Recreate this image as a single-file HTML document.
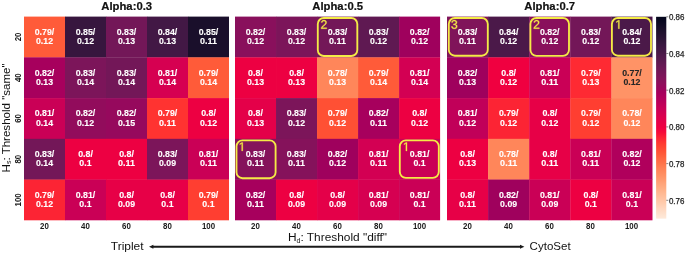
<!DOCTYPE html><html><head><meta charset="utf-8"><style>html,body{margin:0;padding:0;background:#fff;}svg{display:block;filter:blur(0.3px);}text{font-family:"Liberation Sans",sans-serif;}</style></head><body>
<svg width="685" height="254" viewBox="0 0 685 254">
<defs><linearGradient id="cb" x1="0" y1="1" x2="0" y2="0">
<stop offset="0.0000" stop-color="#feeadb"/>
<stop offset="0.0250" stop-color="#fee1cd"/>
<stop offset="0.0500" stop-color="#ffd7bf"/>
<stop offset="0.0750" stop-color="#ffcdaf"/>
<stop offset="0.1000" stop-color="#ffc3a1"/>
<stop offset="0.1250" stop-color="#ffb993"/>
<stop offset="0.1500" stop-color="#ffae84"/>
<stop offset="0.1750" stop-color="#ffa378"/>
<stop offset="0.2000" stop-color="#ff976a"/>
<stop offset="0.2250" stop-color="#ff8c5f"/>
<stop offset="0.2500" stop-color="#ff8155"/>
<stop offset="0.2750" stop-color="#ff7349"/>
<stop offset="0.3000" stop-color="#ff6640"/>
<stop offset="0.3250" stop-color="#ff5737"/>
<stop offset="0.3500" stop-color="#ff4832"/>
<stop offset="0.3750" stop-color="#ff3831"/>
<stop offset="0.4000" stop-color="#fc2434"/>
<stop offset="0.4250" stop-color="#f70d39"/>
<stop offset="0.4500" stop-color="#ef0041"/>
<stop offset="0.4750" stop-color="#e70047"/>
<stop offset="0.5000" stop-color="#de004d"/>
<stop offset="0.5250" stop-color="#d30053"/>
<stop offset="0.5500" stop-color="#c80057"/>
<stop offset="0.5750" stop-color="#bb005a"/>
<stop offset="0.6000" stop-color="#b0005c"/>
<stop offset="0.6250" stop-color="#a5005d"/>
<stop offset="0.6500" stop-color="#98075d"/>
<stop offset="0.6750" stop-color="#8c0f5c"/>
<stop offset="0.7000" stop-color="#80145a"/>
<stop offset="0.7250" stop-color="#751658"/>
<stop offset="0.7500" stop-color="#6a1855"/>
<stop offset="0.7750" stop-color="#5e1951"/>
<stop offset="0.8000" stop-color="#53194d"/>
<stop offset="0.8250" stop-color="#471847"/>
<stop offset="0.8500" stop-color="#3d1742"/>
<stop offset="0.8750" stop-color="#33163c"/>
<stop offset="0.9000" stop-color="#281334"/>
<stop offset="0.9250" stop-color="#1f112e"/>
<stop offset="0.9500" stop-color="#140d27"/>
<stop offset="0.9750" stop-color="#0a0921"/>
<stop offset="1.0000" stop-color="#02051b"/>
</linearGradient></defs>
<rect width="685" height="254" fill="#fff"/>
<rect x="24.00" y="16.60" width="41.30" height="41.04" fill="#ff5b39"/>
<rect x="65.00" y="16.60" width="41.30" height="41.04" fill="#37163e"/>
<rect x="106.00" y="16.60" width="41.30" height="41.04" fill="#731758"/>
<rect x="147.00" y="16.60" width="41.30" height="41.04" fill="#421845"/>
<rect x="188.00" y="16.60" width="41.00" height="41.04" fill="#1a0f2b"/>
<rect x="24.00" y="57.34" width="41.30" height="41.04" fill="#a7005d"/>
<rect x="65.00" y="57.34" width="41.30" height="41.04" fill="#7c155a"/>
<rect x="106.00" y="57.34" width="41.30" height="41.04" fill="#731758"/>
<rect x="147.00" y="57.34" width="41.30" height="41.04" fill="#d60051"/>
<rect x="188.00" y="57.34" width="41.00" height="41.04" fill="#ff5b39"/>
<rect x="24.00" y="98.08" width="41.30" height="41.04" fill="#ca0056"/>
<rect x="65.00" y="98.08" width="41.30" height="41.04" fill="#920c5c"/>
<rect x="106.00" y="98.08" width="41.30" height="41.04" fill="#96095d"/>
<rect x="147.00" y="98.08" width="41.30" height="41.04" fill="#ff3331"/>
<rect x="188.00" y="98.08" width="41.00" height="41.04" fill="#ed0042"/>
<rect x="24.00" y="138.82" width="41.30" height="41.04" fill="#731758"/>
<rect x="65.00" y="138.82" width="41.30" height="41.04" fill="#ed0042"/>
<rect x="106.00" y="138.82" width="41.30" height="41.04" fill="#ed0042"/>
<rect x="147.00" y="138.82" width="41.30" height="41.04" fill="#7c155a"/>
<rect x="188.00" y="138.82" width="41.00" height="41.04" fill="#ca0056"/>
<rect x="24.00" y="179.56" width="41.30" height="40.74" fill="#fc2434"/>
<rect x="65.00" y="179.56" width="41.30" height="40.74" fill="#ca0056"/>
<rect x="106.00" y="179.56" width="41.30" height="40.74" fill="#e70047"/>
<rect x="147.00" y="179.56" width="41.30" height="40.74" fill="#e70047"/>
<rect x="188.00" y="179.56" width="41.00" height="40.74" fill="#ff3e31"/>
<text x="44.50" y="34.87" font-size="8.60" font-weight="bold" fill="#ffffff" stroke="#ffffff" stroke-width="0.12" text-anchor="middle" textLength="19.55" lengthAdjust="spacingAndGlyphs">0.79/</text>
<text x="44.50" y="44.27" font-size="8.60" font-weight="bold" fill="#ffffff" stroke="#ffffff" stroke-width="0.12" text-anchor="middle" textLength="17.03" lengthAdjust="spacingAndGlyphs">0.12</text>
<text x="85.50" y="34.87" font-size="8.60" font-weight="bold" fill="#ffffff" stroke="#ffffff" stroke-width="0.12" text-anchor="middle" textLength="19.55" lengthAdjust="spacingAndGlyphs">0.85/</text>
<text x="85.50" y="44.27" font-size="8.60" font-weight="bold" fill="#ffffff" stroke="#ffffff" stroke-width="0.12" text-anchor="middle" textLength="17.03" lengthAdjust="spacingAndGlyphs">0.12</text>
<text x="126.50" y="34.87" font-size="8.60" font-weight="bold" fill="#ffffff" stroke="#ffffff" stroke-width="0.12" text-anchor="middle" textLength="19.55" lengthAdjust="spacingAndGlyphs">0.83/</text>
<text x="126.50" y="44.27" font-size="8.60" font-weight="bold" fill="#ffffff" stroke="#ffffff" stroke-width="0.12" text-anchor="middle" textLength="17.03" lengthAdjust="spacingAndGlyphs">0.13</text>
<text x="167.50" y="34.87" font-size="8.60" font-weight="bold" fill="#ffffff" stroke="#ffffff" stroke-width="0.12" text-anchor="middle" textLength="19.55" lengthAdjust="spacingAndGlyphs">0.84/</text>
<text x="167.50" y="44.27" font-size="8.60" font-weight="bold" fill="#ffffff" stroke="#ffffff" stroke-width="0.12" text-anchor="middle" textLength="17.03" lengthAdjust="spacingAndGlyphs">0.13</text>
<text x="208.50" y="34.87" font-size="8.60" font-weight="bold" fill="#ffffff" stroke="#ffffff" stroke-width="0.12" text-anchor="middle" textLength="19.55" lengthAdjust="spacingAndGlyphs">0.85/</text>
<text x="208.50" y="44.27" font-size="8.60" font-weight="bold" fill="#ffffff" stroke="#ffffff" stroke-width="0.12" text-anchor="middle" textLength="17.03" lengthAdjust="spacingAndGlyphs">0.11</text>
<text x="44.50" y="75.61" font-size="8.60" font-weight="bold" fill="#ffffff" stroke="#ffffff" stroke-width="0.12" text-anchor="middle" textLength="19.55" lengthAdjust="spacingAndGlyphs">0.82/</text>
<text x="44.50" y="85.01" font-size="8.60" font-weight="bold" fill="#ffffff" stroke="#ffffff" stroke-width="0.12" text-anchor="middle" textLength="17.03" lengthAdjust="spacingAndGlyphs">0.13</text>
<text x="85.50" y="75.61" font-size="8.60" font-weight="bold" fill="#ffffff" stroke="#ffffff" stroke-width="0.12" text-anchor="middle" textLength="19.55" lengthAdjust="spacingAndGlyphs">0.83/</text>
<text x="85.50" y="85.01" font-size="8.60" font-weight="bold" fill="#ffffff" stroke="#ffffff" stroke-width="0.12" text-anchor="middle" textLength="17.03" lengthAdjust="spacingAndGlyphs">0.14</text>
<text x="126.50" y="75.61" font-size="8.60" font-weight="bold" fill="#ffffff" stroke="#ffffff" stroke-width="0.12" text-anchor="middle" textLength="19.55" lengthAdjust="spacingAndGlyphs">0.83/</text>
<text x="126.50" y="85.01" font-size="8.60" font-weight="bold" fill="#ffffff" stroke="#ffffff" stroke-width="0.12" text-anchor="middle" textLength="17.03" lengthAdjust="spacingAndGlyphs">0.14</text>
<text x="167.50" y="75.61" font-size="8.60" font-weight="bold" fill="#ffffff" stroke="#ffffff" stroke-width="0.12" text-anchor="middle" textLength="19.55" lengthAdjust="spacingAndGlyphs">0.81/</text>
<text x="167.50" y="85.01" font-size="8.60" font-weight="bold" fill="#ffffff" stroke="#ffffff" stroke-width="0.12" text-anchor="middle" textLength="17.03" lengthAdjust="spacingAndGlyphs">0.14</text>
<text x="208.50" y="75.61" font-size="8.60" font-weight="bold" fill="#ffffff" stroke="#ffffff" stroke-width="0.12" text-anchor="middle" textLength="19.55" lengthAdjust="spacingAndGlyphs">0.79/</text>
<text x="208.50" y="85.01" font-size="8.60" font-weight="bold" fill="#ffffff" stroke="#ffffff" stroke-width="0.12" text-anchor="middle" textLength="17.03" lengthAdjust="spacingAndGlyphs">0.14</text>
<text x="44.50" y="116.35" font-size="8.60" font-weight="bold" fill="#ffffff" stroke="#ffffff" stroke-width="0.12" text-anchor="middle" textLength="19.55" lengthAdjust="spacingAndGlyphs">0.81/</text>
<text x="44.50" y="125.75" font-size="8.60" font-weight="bold" fill="#ffffff" stroke="#ffffff" stroke-width="0.12" text-anchor="middle" textLength="17.03" lengthAdjust="spacingAndGlyphs">0.14</text>
<text x="85.50" y="116.35" font-size="8.60" font-weight="bold" fill="#ffffff" stroke="#ffffff" stroke-width="0.12" text-anchor="middle" textLength="19.55" lengthAdjust="spacingAndGlyphs">0.82/</text>
<text x="85.50" y="125.75" font-size="8.60" font-weight="bold" fill="#ffffff" stroke="#ffffff" stroke-width="0.12" text-anchor="middle" textLength="17.03" lengthAdjust="spacingAndGlyphs">0.12</text>
<text x="126.50" y="116.35" font-size="8.60" font-weight="bold" fill="#ffffff" stroke="#ffffff" stroke-width="0.12" text-anchor="middle" textLength="19.55" lengthAdjust="spacingAndGlyphs">0.82/</text>
<text x="126.50" y="125.75" font-size="8.60" font-weight="bold" fill="#ffffff" stroke="#ffffff" stroke-width="0.12" text-anchor="middle" textLength="17.03" lengthAdjust="spacingAndGlyphs">0.15</text>
<text x="167.50" y="116.35" font-size="8.60" font-weight="bold" fill="#ffffff" stroke="#ffffff" stroke-width="0.12" text-anchor="middle" textLength="19.55" lengthAdjust="spacingAndGlyphs">0.79/</text>
<text x="167.50" y="125.75" font-size="8.60" font-weight="bold" fill="#ffffff" stroke="#ffffff" stroke-width="0.12" text-anchor="middle" textLength="17.03" lengthAdjust="spacingAndGlyphs">0.11</text>
<text x="208.50" y="116.35" font-size="8.60" font-weight="bold" fill="#ffffff" stroke="#ffffff" stroke-width="0.12" text-anchor="middle" textLength="14.75" lengthAdjust="spacingAndGlyphs">0.8/</text>
<text x="208.50" y="125.75" font-size="8.60" font-weight="bold" fill="#ffffff" stroke="#ffffff" stroke-width="0.12" text-anchor="middle" textLength="17.03" lengthAdjust="spacingAndGlyphs">0.12</text>
<text x="44.50" y="157.09" font-size="8.60" font-weight="bold" fill="#ffffff" stroke="#ffffff" stroke-width="0.12" text-anchor="middle" textLength="19.55" lengthAdjust="spacingAndGlyphs">0.83/</text>
<text x="44.50" y="166.49" font-size="8.60" font-weight="bold" fill="#ffffff" stroke="#ffffff" stroke-width="0.12" text-anchor="middle" textLength="17.03" lengthAdjust="spacingAndGlyphs">0.14</text>
<text x="85.50" y="157.09" font-size="8.60" font-weight="bold" fill="#ffffff" stroke="#ffffff" stroke-width="0.12" text-anchor="middle" textLength="14.75" lengthAdjust="spacingAndGlyphs">0.8/</text>
<text x="85.50" y="166.49" font-size="8.60" font-weight="bold" fill="#ffffff" stroke="#ffffff" stroke-width="0.12" text-anchor="middle" textLength="12.23" lengthAdjust="spacingAndGlyphs">0.1</text>
<text x="126.50" y="157.09" font-size="8.60" font-weight="bold" fill="#ffffff" stroke="#ffffff" stroke-width="0.12" text-anchor="middle" textLength="14.75" lengthAdjust="spacingAndGlyphs">0.8/</text>
<text x="126.50" y="166.49" font-size="8.60" font-weight="bold" fill="#ffffff" stroke="#ffffff" stroke-width="0.12" text-anchor="middle" textLength="17.03" lengthAdjust="spacingAndGlyphs">0.11</text>
<text x="167.50" y="157.09" font-size="8.60" font-weight="bold" fill="#ffffff" stroke="#ffffff" stroke-width="0.12" text-anchor="middle" textLength="19.55" lengthAdjust="spacingAndGlyphs">0.83/</text>
<text x="167.50" y="166.49" font-size="8.60" font-weight="bold" fill="#ffffff" stroke="#ffffff" stroke-width="0.12" text-anchor="middle" textLength="17.03" lengthAdjust="spacingAndGlyphs">0.09</text>
<text x="208.50" y="157.09" font-size="8.60" font-weight="bold" fill="#ffffff" stroke="#ffffff" stroke-width="0.12" text-anchor="middle" textLength="19.55" lengthAdjust="spacingAndGlyphs">0.81/</text>
<text x="208.50" y="166.49" font-size="8.60" font-weight="bold" fill="#ffffff" stroke="#ffffff" stroke-width="0.12" text-anchor="middle" textLength="17.03" lengthAdjust="spacingAndGlyphs">0.11</text>
<text x="44.50" y="197.83" font-size="8.60" font-weight="bold" fill="#ffffff" stroke="#ffffff" stroke-width="0.12" text-anchor="middle" textLength="19.55" lengthAdjust="spacingAndGlyphs">0.79/</text>
<text x="44.50" y="207.23" font-size="8.60" font-weight="bold" fill="#ffffff" stroke="#ffffff" stroke-width="0.12" text-anchor="middle" textLength="17.03" lengthAdjust="spacingAndGlyphs">0.12</text>
<text x="85.50" y="197.83" font-size="8.60" font-weight="bold" fill="#ffffff" stroke="#ffffff" stroke-width="0.12" text-anchor="middle" textLength="19.55" lengthAdjust="spacingAndGlyphs">0.81/</text>
<text x="85.50" y="207.23" font-size="8.60" font-weight="bold" fill="#ffffff" stroke="#ffffff" stroke-width="0.12" text-anchor="middle" textLength="12.23" lengthAdjust="spacingAndGlyphs">0.1</text>
<text x="126.50" y="197.83" font-size="8.60" font-weight="bold" fill="#ffffff" stroke="#ffffff" stroke-width="0.12" text-anchor="middle" textLength="14.75" lengthAdjust="spacingAndGlyphs">0.8/</text>
<text x="126.50" y="207.23" font-size="8.60" font-weight="bold" fill="#ffffff" stroke="#ffffff" stroke-width="0.12" text-anchor="middle" textLength="17.03" lengthAdjust="spacingAndGlyphs">0.09</text>
<text x="167.50" y="197.83" font-size="8.60" font-weight="bold" fill="#ffffff" stroke="#ffffff" stroke-width="0.12" text-anchor="middle" textLength="14.75" lengthAdjust="spacingAndGlyphs">0.8/</text>
<text x="167.50" y="207.23" font-size="8.60" font-weight="bold" fill="#ffffff" stroke="#ffffff" stroke-width="0.12" text-anchor="middle" textLength="12.23" lengthAdjust="spacingAndGlyphs">0.1</text>
<text x="208.50" y="197.83" font-size="8.60" font-weight="bold" fill="#ffffff" stroke="#ffffff" stroke-width="0.12" text-anchor="middle" textLength="19.55" lengthAdjust="spacingAndGlyphs">0.79/</text>
<text x="208.50" y="207.23" font-size="8.60" font-weight="bold" fill="#ffffff" stroke="#ffffff" stroke-width="0.12" text-anchor="middle" textLength="12.23" lengthAdjust="spacingAndGlyphs">0.1</text>
<text x="126.70" y="10.4" font-size="11.3" font-weight="bold" fill="#111" stroke="#111" stroke-width="0.2" text-anchor="middle">Alpha:0.3</text>
<text x="44.50" y="229.2" font-size="8.3" font-weight="bold" fill="#1a1a1a" text-anchor="middle" textLength="8.78" lengthAdjust="spacingAndGlyphs">20</text>
<text x="85.50" y="229.2" font-size="8.3" font-weight="bold" fill="#1a1a1a" text-anchor="middle" textLength="8.78" lengthAdjust="spacingAndGlyphs">40</text>
<text x="126.50" y="229.2" font-size="8.3" font-weight="bold" fill="#1a1a1a" text-anchor="middle" textLength="8.78" lengthAdjust="spacingAndGlyphs">60</text>
<text x="167.50" y="229.2" font-size="8.3" font-weight="bold" fill="#1a1a1a" text-anchor="middle" textLength="8.78" lengthAdjust="spacingAndGlyphs">80</text>
<text x="208.50" y="229.2" font-size="8.3" font-weight="bold" fill="#1a1a1a" text-anchor="middle" textLength="13.18" lengthAdjust="spacingAndGlyphs">100</text>
<rect x="235.00" y="16.60" width="41.32" height="41.04" fill="#89105c"/>
<rect x="276.02" y="16.60" width="41.32" height="41.04" fill="#7c155a"/>
<rect x="317.04" y="16.60" width="41.32" height="41.04" fill="#731758"/>
<rect x="358.06" y="16.60" width="41.32" height="41.04" fill="#5f1952"/>
<rect x="399.08" y="16.60" width="41.02" height="41.04" fill="#9f015d"/>
<rect x="235.00" y="57.34" width="41.32" height="41.04" fill="#ed0042"/>
<rect x="276.02" y="57.34" width="41.32" height="41.04" fill="#ed0042"/>
<rect x="317.04" y="57.34" width="41.32" height="41.04" fill="#ff865a"/>
<rect x="358.06" y="57.34" width="41.32" height="41.04" fill="#ff5b39"/>
<rect x="399.08" y="57.34" width="41.02" height="41.04" fill="#d30053"/>
<rect x="235.00" y="98.08" width="41.32" height="41.04" fill="#e40049"/>
<rect x="276.02" y="98.08" width="41.32" height="41.04" fill="#7c155a"/>
<rect x="317.04" y="98.08" width="41.32" height="41.04" fill="#ff5034"/>
<rect x="358.06" y="98.08" width="41.32" height="41.04" fill="#a7005d"/>
<rect x="399.08" y="98.08" width="41.02" height="41.04" fill="#ed0042"/>
<rect x="235.00" y="138.82" width="41.32" height="41.04" fill="#85125b"/>
<rect x="276.02" y="138.82" width="41.32" height="41.04" fill="#85125b"/>
<rect x="317.04" y="138.82" width="41.32" height="41.04" fill="#9f015d"/>
<rect x="358.06" y="138.82" width="41.32" height="41.04" fill="#d30053"/>
<rect x="399.08" y="138.82" width="41.02" height="41.04" fill="#ca0056"/>
<rect x="235.00" y="179.56" width="41.32" height="40.74" fill="#a7005d"/>
<rect x="276.02" y="179.56" width="41.32" height="40.74" fill="#ed0042"/>
<rect x="317.04" y="179.56" width="41.32" height="40.74" fill="#e40049"/>
<rect x="358.06" y="179.56" width="41.32" height="40.74" fill="#d60051"/>
<rect x="399.08" y="179.56" width="41.02" height="40.74" fill="#ca0056"/>
<text x="255.51" y="34.87" font-size="8.60" font-weight="bold" fill="#ffffff" stroke="#ffffff" stroke-width="0.12" text-anchor="middle" textLength="19.55" lengthAdjust="spacingAndGlyphs">0.82/</text>
<text x="255.51" y="44.27" font-size="8.60" font-weight="bold" fill="#ffffff" stroke="#ffffff" stroke-width="0.12" text-anchor="middle" textLength="17.03" lengthAdjust="spacingAndGlyphs">0.12</text>
<text x="296.53" y="34.87" font-size="8.60" font-weight="bold" fill="#ffffff" stroke="#ffffff" stroke-width="0.12" text-anchor="middle" textLength="19.55" lengthAdjust="spacingAndGlyphs">0.83/</text>
<text x="296.53" y="44.27" font-size="8.60" font-weight="bold" fill="#ffffff" stroke="#ffffff" stroke-width="0.12" text-anchor="middle" textLength="17.03" lengthAdjust="spacingAndGlyphs">0.12</text>
<text x="337.55" y="34.87" font-size="8.60" font-weight="bold" fill="#ffffff" stroke="#ffffff" stroke-width="0.12" text-anchor="middle" textLength="19.55" lengthAdjust="spacingAndGlyphs">0.83/</text>
<text x="337.55" y="44.27" font-size="8.60" font-weight="bold" fill="#ffffff" stroke="#ffffff" stroke-width="0.12" text-anchor="middle" textLength="17.03" lengthAdjust="spacingAndGlyphs">0.11</text>
<text x="378.57" y="34.87" font-size="8.60" font-weight="bold" fill="#ffffff" stroke="#ffffff" stroke-width="0.12" text-anchor="middle" textLength="19.55" lengthAdjust="spacingAndGlyphs">0.83/</text>
<text x="378.57" y="44.27" font-size="8.60" font-weight="bold" fill="#ffffff" stroke="#ffffff" stroke-width="0.12" text-anchor="middle" textLength="17.03" lengthAdjust="spacingAndGlyphs">0.12</text>
<text x="419.59" y="34.87" font-size="8.60" font-weight="bold" fill="#ffffff" stroke="#ffffff" stroke-width="0.12" text-anchor="middle" textLength="19.55" lengthAdjust="spacingAndGlyphs">0.82/</text>
<text x="419.59" y="44.27" font-size="8.60" font-weight="bold" fill="#ffffff" stroke="#ffffff" stroke-width="0.12" text-anchor="middle" textLength="17.03" lengthAdjust="spacingAndGlyphs">0.12</text>
<text x="255.51" y="75.61" font-size="8.60" font-weight="bold" fill="#ffffff" stroke="#ffffff" stroke-width="0.12" text-anchor="middle" textLength="14.75" lengthAdjust="spacingAndGlyphs">0.8/</text>
<text x="255.51" y="85.01" font-size="8.60" font-weight="bold" fill="#ffffff" stroke="#ffffff" stroke-width="0.12" text-anchor="middle" textLength="17.03" lengthAdjust="spacingAndGlyphs">0.13</text>
<text x="296.53" y="75.61" font-size="8.60" font-weight="bold" fill="#ffffff" stroke="#ffffff" stroke-width="0.12" text-anchor="middle" textLength="14.75" lengthAdjust="spacingAndGlyphs">0.8/</text>
<text x="296.53" y="85.01" font-size="8.60" font-weight="bold" fill="#ffffff" stroke="#ffffff" stroke-width="0.12" text-anchor="middle" textLength="17.03" lengthAdjust="spacingAndGlyphs">0.13</text>
<text x="337.55" y="75.61" font-size="8.60" font-weight="bold" fill="#ffffff" stroke="#ffffff" stroke-width="0.12" text-anchor="middle" textLength="19.55" lengthAdjust="spacingAndGlyphs">0.78/</text>
<text x="337.55" y="85.01" font-size="8.60" font-weight="bold" fill="#ffffff" stroke="#ffffff" stroke-width="0.12" text-anchor="middle" textLength="17.03" lengthAdjust="spacingAndGlyphs">0.13</text>
<text x="378.57" y="75.61" font-size="8.60" font-weight="bold" fill="#ffffff" stroke="#ffffff" stroke-width="0.12" text-anchor="middle" textLength="19.55" lengthAdjust="spacingAndGlyphs">0.79/</text>
<text x="378.57" y="85.01" font-size="8.60" font-weight="bold" fill="#ffffff" stroke="#ffffff" stroke-width="0.12" text-anchor="middle" textLength="17.03" lengthAdjust="spacingAndGlyphs">0.14</text>
<text x="419.59" y="75.61" font-size="8.60" font-weight="bold" fill="#ffffff" stroke="#ffffff" stroke-width="0.12" text-anchor="middle" textLength="19.55" lengthAdjust="spacingAndGlyphs">0.81/</text>
<text x="419.59" y="85.01" font-size="8.60" font-weight="bold" fill="#ffffff" stroke="#ffffff" stroke-width="0.12" text-anchor="middle" textLength="17.03" lengthAdjust="spacingAndGlyphs">0.14</text>
<text x="255.51" y="116.35" font-size="8.60" font-weight="bold" fill="#ffffff" stroke="#ffffff" stroke-width="0.12" text-anchor="middle" textLength="14.75" lengthAdjust="spacingAndGlyphs">0.8/</text>
<text x="255.51" y="125.75" font-size="8.60" font-weight="bold" fill="#ffffff" stroke="#ffffff" stroke-width="0.12" text-anchor="middle" textLength="17.03" lengthAdjust="spacingAndGlyphs">0.13</text>
<text x="296.53" y="116.35" font-size="8.60" font-weight="bold" fill="#ffffff" stroke="#ffffff" stroke-width="0.12" text-anchor="middle" textLength="19.55" lengthAdjust="spacingAndGlyphs">0.83/</text>
<text x="296.53" y="125.75" font-size="8.60" font-weight="bold" fill="#ffffff" stroke="#ffffff" stroke-width="0.12" text-anchor="middle" textLength="17.03" lengthAdjust="spacingAndGlyphs">0.12</text>
<text x="337.55" y="116.35" font-size="8.60" font-weight="bold" fill="#ffffff" stroke="#ffffff" stroke-width="0.12" text-anchor="middle" textLength="19.55" lengthAdjust="spacingAndGlyphs">0.79/</text>
<text x="337.55" y="125.75" font-size="8.60" font-weight="bold" fill="#ffffff" stroke="#ffffff" stroke-width="0.12" text-anchor="middle" textLength="17.03" lengthAdjust="spacingAndGlyphs">0.12</text>
<text x="378.57" y="116.35" font-size="8.60" font-weight="bold" fill="#ffffff" stroke="#ffffff" stroke-width="0.12" text-anchor="middle" textLength="19.55" lengthAdjust="spacingAndGlyphs">0.82/</text>
<text x="378.57" y="125.75" font-size="8.60" font-weight="bold" fill="#ffffff" stroke="#ffffff" stroke-width="0.12" text-anchor="middle" textLength="17.03" lengthAdjust="spacingAndGlyphs">0.11</text>
<text x="419.59" y="116.35" font-size="8.60" font-weight="bold" fill="#ffffff" stroke="#ffffff" stroke-width="0.12" text-anchor="middle" textLength="14.75" lengthAdjust="spacingAndGlyphs">0.8/</text>
<text x="419.59" y="125.75" font-size="8.60" font-weight="bold" fill="#ffffff" stroke="#ffffff" stroke-width="0.12" text-anchor="middle" textLength="17.03" lengthAdjust="spacingAndGlyphs">0.12</text>
<text x="255.51" y="157.09" font-size="8.60" font-weight="bold" fill="#ffffff" stroke="#ffffff" stroke-width="0.12" text-anchor="middle" textLength="19.55" lengthAdjust="spacingAndGlyphs">0.83/</text>
<text x="255.51" y="166.49" font-size="8.60" font-weight="bold" fill="#ffffff" stroke="#ffffff" stroke-width="0.12" text-anchor="middle" textLength="17.03" lengthAdjust="spacingAndGlyphs">0.11</text>
<text x="296.53" y="157.09" font-size="8.60" font-weight="bold" fill="#ffffff" stroke="#ffffff" stroke-width="0.12" text-anchor="middle" textLength="19.55" lengthAdjust="spacingAndGlyphs">0.83/</text>
<text x="296.53" y="166.49" font-size="8.60" font-weight="bold" fill="#ffffff" stroke="#ffffff" stroke-width="0.12" text-anchor="middle" textLength="17.03" lengthAdjust="spacingAndGlyphs">0.11</text>
<text x="337.55" y="157.09" font-size="8.60" font-weight="bold" fill="#ffffff" stroke="#ffffff" stroke-width="0.12" text-anchor="middle" textLength="19.55" lengthAdjust="spacingAndGlyphs">0.82/</text>
<text x="337.55" y="166.49" font-size="8.60" font-weight="bold" fill="#ffffff" stroke="#ffffff" stroke-width="0.12" text-anchor="middle" textLength="17.03" lengthAdjust="spacingAndGlyphs">0.12</text>
<text x="378.57" y="157.09" font-size="8.60" font-weight="bold" fill="#ffffff" stroke="#ffffff" stroke-width="0.12" text-anchor="middle" textLength="19.55" lengthAdjust="spacingAndGlyphs">0.81/</text>
<text x="378.57" y="166.49" font-size="8.60" font-weight="bold" fill="#ffffff" stroke="#ffffff" stroke-width="0.12" text-anchor="middle" textLength="17.03" lengthAdjust="spacingAndGlyphs">0.11</text>
<text x="419.59" y="157.09" font-size="8.60" font-weight="bold" fill="#ffffff" stroke="#ffffff" stroke-width="0.12" text-anchor="middle" textLength="19.55" lengthAdjust="spacingAndGlyphs">0.81/</text>
<text x="419.59" y="166.49" font-size="8.60" font-weight="bold" fill="#ffffff" stroke="#ffffff" stroke-width="0.12" text-anchor="middle" textLength="12.23" lengthAdjust="spacingAndGlyphs">0.1</text>
<text x="255.51" y="197.83" font-size="8.60" font-weight="bold" fill="#ffffff" stroke="#ffffff" stroke-width="0.12" text-anchor="middle" textLength="19.55" lengthAdjust="spacingAndGlyphs">0.82/</text>
<text x="255.51" y="207.23" font-size="8.60" font-weight="bold" fill="#ffffff" stroke="#ffffff" stroke-width="0.12" text-anchor="middle" textLength="17.03" lengthAdjust="spacingAndGlyphs">0.11</text>
<text x="296.53" y="197.83" font-size="8.60" font-weight="bold" fill="#ffffff" stroke="#ffffff" stroke-width="0.12" text-anchor="middle" textLength="14.75" lengthAdjust="spacingAndGlyphs">0.8/</text>
<text x="296.53" y="207.23" font-size="8.60" font-weight="bold" fill="#ffffff" stroke="#ffffff" stroke-width="0.12" text-anchor="middle" textLength="17.03" lengthAdjust="spacingAndGlyphs">0.09</text>
<text x="337.55" y="197.83" font-size="8.60" font-weight="bold" fill="#ffffff" stroke="#ffffff" stroke-width="0.12" text-anchor="middle" textLength="14.75" lengthAdjust="spacingAndGlyphs">0.8/</text>
<text x="337.55" y="207.23" font-size="8.60" font-weight="bold" fill="#ffffff" stroke="#ffffff" stroke-width="0.12" text-anchor="middle" textLength="17.03" lengthAdjust="spacingAndGlyphs">0.09</text>
<text x="378.57" y="197.83" font-size="8.60" font-weight="bold" fill="#ffffff" stroke="#ffffff" stroke-width="0.12" text-anchor="middle" textLength="19.55" lengthAdjust="spacingAndGlyphs">0.81/</text>
<text x="378.57" y="207.23" font-size="8.60" font-weight="bold" fill="#ffffff" stroke="#ffffff" stroke-width="0.12" text-anchor="middle" textLength="17.03" lengthAdjust="spacingAndGlyphs">0.09</text>
<text x="419.59" y="197.83" font-size="8.60" font-weight="bold" fill="#ffffff" stroke="#ffffff" stroke-width="0.12" text-anchor="middle" textLength="19.55" lengthAdjust="spacingAndGlyphs">0.81/</text>
<text x="419.59" y="207.23" font-size="8.60" font-weight="bold" fill="#ffffff" stroke="#ffffff" stroke-width="0.12" text-anchor="middle" textLength="12.23" lengthAdjust="spacingAndGlyphs">0.1</text>
<text x="337.70" y="10.4" font-size="11.3" font-weight="bold" fill="#111" stroke="#111" stroke-width="0.2" text-anchor="middle">Alpha:0.5</text>
<text x="255.50" y="229.2" font-size="8.3" font-weight="bold" fill="#1a1a1a" text-anchor="middle" textLength="8.78" lengthAdjust="spacingAndGlyphs">20</text>
<text x="296.50" y="229.2" font-size="8.3" font-weight="bold" fill="#1a1a1a" text-anchor="middle" textLength="8.78" lengthAdjust="spacingAndGlyphs">40</text>
<text x="337.50" y="229.2" font-size="8.3" font-weight="bold" fill="#1a1a1a" text-anchor="middle" textLength="8.78" lengthAdjust="spacingAndGlyphs">60</text>
<text x="378.50" y="229.2" font-size="8.3" font-weight="bold" fill="#1a1a1a" text-anchor="middle" textLength="8.78" lengthAdjust="spacingAndGlyphs">80</text>
<text x="419.50" y="229.2" font-size="8.3" font-weight="bold" fill="#1a1a1a" text-anchor="middle" textLength="13.18" lengthAdjust="spacingAndGlyphs">100</text>
<rect x="447.00" y="16.60" width="41.40" height="41.04" fill="#80145a"/>
<rect x="488.10" y="16.60" width="41.40" height="41.04" fill="#4b1949"/>
<rect x="529.20" y="16.60" width="41.40" height="41.04" fill="#89105c"/>
<rect x="570.30" y="16.60" width="41.40" height="41.04" fill="#731758"/>
<rect x="611.40" y="16.60" width="41.10" height="41.04" fill="#4b1949"/>
<rect x="447.00" y="57.34" width="41.40" height="41.04" fill="#9f015d"/>
<rect x="488.10" y="57.34" width="41.40" height="41.04" fill="#f00040"/>
<rect x="529.20" y="57.34" width="41.40" height="41.04" fill="#ca0056"/>
<rect x="570.30" y="57.34" width="41.40" height="41.04" fill="#fe2a33"/>
<rect x="611.40" y="57.34" width="41.10" height="41.04" fill="#ff9366"/>
<rect x="447.00" y="98.08" width="41.40" height="41.04" fill="#c10059"/>
<rect x="488.10" y="98.08" width="41.40" height="41.04" fill="#fc2434"/>
<rect x="529.20" y="98.08" width="41.40" height="41.04" fill="#e70047"/>
<rect x="570.30" y="98.08" width="41.40" height="41.04" fill="#ff3e31"/>
<rect x="611.40" y="98.08" width="41.10" height="41.04" fill="#ff865a"/>
<rect x="447.00" y="138.82" width="41.40" height="41.04" fill="#ed0042"/>
<rect x="488.10" y="138.82" width="41.40" height="41.04" fill="#ff865a"/>
<rect x="529.20" y="138.82" width="41.40" height="41.04" fill="#e70047"/>
<rect x="570.30" y="138.82" width="41.40" height="41.04" fill="#ca0056"/>
<rect x="611.40" y="138.82" width="41.10" height="41.04" fill="#b0005c"/>
<rect x="447.00" y="179.56" width="41.40" height="40.74" fill="#e70047"/>
<rect x="488.10" y="179.56" width="41.40" height="40.74" fill="#9f015d"/>
<rect x="529.20" y="179.56" width="41.40" height="40.74" fill="#ca0056"/>
<rect x="570.30" y="179.56" width="41.40" height="40.74" fill="#ed0042"/>
<rect x="611.40" y="179.56" width="41.10" height="40.74" fill="#ca0056"/>
<text x="467.55" y="34.87" font-size="8.60" font-weight="bold" fill="#ffffff" stroke="#ffffff" stroke-width="0.12" text-anchor="middle" textLength="19.55" lengthAdjust="spacingAndGlyphs">0.83/</text>
<text x="467.55" y="44.27" font-size="8.60" font-weight="bold" fill="#ffffff" stroke="#ffffff" stroke-width="0.12" text-anchor="middle" textLength="17.03" lengthAdjust="spacingAndGlyphs">0.11</text>
<text x="508.65" y="34.87" font-size="8.60" font-weight="bold" fill="#ffffff" stroke="#ffffff" stroke-width="0.12" text-anchor="middle" textLength="19.55" lengthAdjust="spacingAndGlyphs">0.84/</text>
<text x="508.65" y="44.27" font-size="8.60" font-weight="bold" fill="#ffffff" stroke="#ffffff" stroke-width="0.12" text-anchor="middle" textLength="17.03" lengthAdjust="spacingAndGlyphs">0.12</text>
<text x="549.75" y="34.87" font-size="8.60" font-weight="bold" fill="#ffffff" stroke="#ffffff" stroke-width="0.12" text-anchor="middle" textLength="19.55" lengthAdjust="spacingAndGlyphs">0.82/</text>
<text x="549.75" y="44.27" font-size="8.60" font-weight="bold" fill="#ffffff" stroke="#ffffff" stroke-width="0.12" text-anchor="middle" textLength="17.03" lengthAdjust="spacingAndGlyphs">0.12</text>
<text x="590.85" y="34.87" font-size="8.60" font-weight="bold" fill="#ffffff" stroke="#ffffff" stroke-width="0.12" text-anchor="middle" textLength="19.55" lengthAdjust="spacingAndGlyphs">0.83/</text>
<text x="590.85" y="44.27" font-size="8.60" font-weight="bold" fill="#ffffff" stroke="#ffffff" stroke-width="0.12" text-anchor="middle" textLength="17.03" lengthAdjust="spacingAndGlyphs">0.12</text>
<text x="631.95" y="34.87" font-size="8.60" font-weight="bold" fill="#ffffff" stroke="#ffffff" stroke-width="0.12" text-anchor="middle" textLength="19.55" lengthAdjust="spacingAndGlyphs">0.84/</text>
<text x="631.95" y="44.27" font-size="8.60" font-weight="bold" fill="#ffffff" stroke="#ffffff" stroke-width="0.12" text-anchor="middle" textLength="17.03" lengthAdjust="spacingAndGlyphs">0.12</text>
<text x="467.55" y="75.61" font-size="8.60" font-weight="bold" fill="#ffffff" stroke="#ffffff" stroke-width="0.12" text-anchor="middle" textLength="19.55" lengthAdjust="spacingAndGlyphs">0.82/</text>
<text x="467.55" y="85.01" font-size="8.60" font-weight="bold" fill="#ffffff" stroke="#ffffff" stroke-width="0.12" text-anchor="middle" textLength="17.03" lengthAdjust="spacingAndGlyphs">0.13</text>
<text x="508.65" y="75.61" font-size="8.60" font-weight="bold" fill="#ffffff" stroke="#ffffff" stroke-width="0.12" text-anchor="middle" textLength="14.75" lengthAdjust="spacingAndGlyphs">0.8/</text>
<text x="508.65" y="85.01" font-size="8.60" font-weight="bold" fill="#ffffff" stroke="#ffffff" stroke-width="0.12" text-anchor="middle" textLength="17.03" lengthAdjust="spacingAndGlyphs">0.12</text>
<text x="549.75" y="75.61" font-size="8.60" font-weight="bold" fill="#ffffff" stroke="#ffffff" stroke-width="0.12" text-anchor="middle" textLength="19.55" lengthAdjust="spacingAndGlyphs">0.81/</text>
<text x="549.75" y="85.01" font-size="8.60" font-weight="bold" fill="#ffffff" stroke="#ffffff" stroke-width="0.12" text-anchor="middle" textLength="17.03" lengthAdjust="spacingAndGlyphs">0.11</text>
<text x="590.85" y="75.61" font-size="8.60" font-weight="bold" fill="#ffffff" stroke="#ffffff" stroke-width="0.12" text-anchor="middle" textLength="19.55" lengthAdjust="spacingAndGlyphs">0.79/</text>
<text x="590.85" y="85.01" font-size="8.60" font-weight="bold" fill="#ffffff" stroke="#ffffff" stroke-width="0.12" text-anchor="middle" textLength="17.03" lengthAdjust="spacingAndGlyphs">0.13</text>
<text x="631.95" y="75.61" font-size="8.60" font-weight="bold" fill="#262626" stroke="#262626" stroke-width="0.12" text-anchor="middle" textLength="19.55" lengthAdjust="spacingAndGlyphs">0.77/</text>
<text x="631.95" y="85.01" font-size="8.60" font-weight="bold" fill="#262626" stroke="#262626" stroke-width="0.12" text-anchor="middle" textLength="17.03" lengthAdjust="spacingAndGlyphs">0.12</text>
<text x="467.55" y="116.35" font-size="8.60" font-weight="bold" fill="#ffffff" stroke="#ffffff" stroke-width="0.12" text-anchor="middle" textLength="19.55" lengthAdjust="spacingAndGlyphs">0.81/</text>
<text x="467.55" y="125.75" font-size="8.60" font-weight="bold" fill="#ffffff" stroke="#ffffff" stroke-width="0.12" text-anchor="middle" textLength="17.03" lengthAdjust="spacingAndGlyphs">0.12</text>
<text x="508.65" y="116.35" font-size="8.60" font-weight="bold" fill="#ffffff" stroke="#ffffff" stroke-width="0.12" text-anchor="middle" textLength="19.55" lengthAdjust="spacingAndGlyphs">0.79/</text>
<text x="508.65" y="125.75" font-size="8.60" font-weight="bold" fill="#ffffff" stroke="#ffffff" stroke-width="0.12" text-anchor="middle" textLength="17.03" lengthAdjust="spacingAndGlyphs">0.12</text>
<text x="549.75" y="116.35" font-size="8.60" font-weight="bold" fill="#ffffff" stroke="#ffffff" stroke-width="0.12" text-anchor="middle" textLength="14.75" lengthAdjust="spacingAndGlyphs">0.8/</text>
<text x="549.75" y="125.75" font-size="8.60" font-weight="bold" fill="#ffffff" stroke="#ffffff" stroke-width="0.12" text-anchor="middle" textLength="17.03" lengthAdjust="spacingAndGlyphs">0.12</text>
<text x="590.85" y="116.35" font-size="8.60" font-weight="bold" fill="#ffffff" stroke="#ffffff" stroke-width="0.12" text-anchor="middle" textLength="19.55" lengthAdjust="spacingAndGlyphs">0.79/</text>
<text x="590.85" y="125.75" font-size="8.60" font-weight="bold" fill="#ffffff" stroke="#ffffff" stroke-width="0.12" text-anchor="middle" textLength="17.03" lengthAdjust="spacingAndGlyphs">0.12</text>
<text x="631.95" y="116.35" font-size="8.60" font-weight="bold" fill="#ffffff" stroke="#ffffff" stroke-width="0.12" text-anchor="middle" textLength="19.55" lengthAdjust="spacingAndGlyphs">0.78/</text>
<text x="631.95" y="125.75" font-size="8.60" font-weight="bold" fill="#ffffff" stroke="#ffffff" stroke-width="0.12" text-anchor="middle" textLength="17.03" lengthAdjust="spacingAndGlyphs">0.12</text>
<text x="467.55" y="157.09" font-size="8.60" font-weight="bold" fill="#ffffff" stroke="#ffffff" stroke-width="0.12" text-anchor="middle" textLength="14.75" lengthAdjust="spacingAndGlyphs">0.8/</text>
<text x="467.55" y="166.49" font-size="8.60" font-weight="bold" fill="#ffffff" stroke="#ffffff" stroke-width="0.12" text-anchor="middle" textLength="17.03" lengthAdjust="spacingAndGlyphs">0.13</text>
<text x="508.65" y="157.09" font-size="8.60" font-weight="bold" fill="#ffffff" stroke="#ffffff" stroke-width="0.12" text-anchor="middle" textLength="19.55" lengthAdjust="spacingAndGlyphs">0.78/</text>
<text x="508.65" y="166.49" font-size="8.60" font-weight="bold" fill="#ffffff" stroke="#ffffff" stroke-width="0.12" text-anchor="middle" textLength="17.03" lengthAdjust="spacingAndGlyphs">0.11</text>
<text x="549.75" y="157.09" font-size="8.60" font-weight="bold" fill="#ffffff" stroke="#ffffff" stroke-width="0.12" text-anchor="middle" textLength="14.75" lengthAdjust="spacingAndGlyphs">0.8/</text>
<text x="549.75" y="166.49" font-size="8.60" font-weight="bold" fill="#ffffff" stroke="#ffffff" stroke-width="0.12" text-anchor="middle" textLength="17.03" lengthAdjust="spacingAndGlyphs">0.11</text>
<text x="590.85" y="157.09" font-size="8.60" font-weight="bold" fill="#ffffff" stroke="#ffffff" stroke-width="0.12" text-anchor="middle" textLength="19.55" lengthAdjust="spacingAndGlyphs">0.81/</text>
<text x="590.85" y="166.49" font-size="8.60" font-weight="bold" fill="#ffffff" stroke="#ffffff" stroke-width="0.12" text-anchor="middle" textLength="17.03" lengthAdjust="spacingAndGlyphs">0.11</text>
<text x="631.95" y="157.09" font-size="8.60" font-weight="bold" fill="#ffffff" stroke="#ffffff" stroke-width="0.12" text-anchor="middle" textLength="19.55" lengthAdjust="spacingAndGlyphs">0.82/</text>
<text x="631.95" y="166.49" font-size="8.60" font-weight="bold" fill="#ffffff" stroke="#ffffff" stroke-width="0.12" text-anchor="middle" textLength="17.03" lengthAdjust="spacingAndGlyphs">0.12</text>
<text x="467.55" y="197.83" font-size="8.60" font-weight="bold" fill="#ffffff" stroke="#ffffff" stroke-width="0.12" text-anchor="middle" textLength="14.75" lengthAdjust="spacingAndGlyphs">0.8/</text>
<text x="467.55" y="207.23" font-size="8.60" font-weight="bold" fill="#ffffff" stroke="#ffffff" stroke-width="0.12" text-anchor="middle" textLength="17.03" lengthAdjust="spacingAndGlyphs">0.11</text>
<text x="508.65" y="197.83" font-size="8.60" font-weight="bold" fill="#ffffff" stroke="#ffffff" stroke-width="0.12" text-anchor="middle" textLength="19.55" lengthAdjust="spacingAndGlyphs">0.82/</text>
<text x="508.65" y="207.23" font-size="8.60" font-weight="bold" fill="#ffffff" stroke="#ffffff" stroke-width="0.12" text-anchor="middle" textLength="17.03" lengthAdjust="spacingAndGlyphs">0.09</text>
<text x="549.75" y="197.83" font-size="8.60" font-weight="bold" fill="#ffffff" stroke="#ffffff" stroke-width="0.12" text-anchor="middle" textLength="19.55" lengthAdjust="spacingAndGlyphs">0.81/</text>
<text x="549.75" y="207.23" font-size="8.60" font-weight="bold" fill="#ffffff" stroke="#ffffff" stroke-width="0.12" text-anchor="middle" textLength="17.03" lengthAdjust="spacingAndGlyphs">0.09</text>
<text x="590.85" y="197.83" font-size="8.60" font-weight="bold" fill="#ffffff" stroke="#ffffff" stroke-width="0.12" text-anchor="middle" textLength="14.75" lengthAdjust="spacingAndGlyphs">0.8/</text>
<text x="590.85" y="207.23" font-size="8.60" font-weight="bold" fill="#ffffff" stroke="#ffffff" stroke-width="0.12" text-anchor="middle" textLength="12.23" lengthAdjust="spacingAndGlyphs">0.1</text>
<text x="631.95" y="197.83" font-size="8.60" font-weight="bold" fill="#ffffff" stroke="#ffffff" stroke-width="0.12" text-anchor="middle" textLength="19.55" lengthAdjust="spacingAndGlyphs">0.81/</text>
<text x="631.95" y="207.23" font-size="8.60" font-weight="bold" fill="#ffffff" stroke="#ffffff" stroke-width="0.12" text-anchor="middle" textLength="12.23" lengthAdjust="spacingAndGlyphs">0.1</text>
<text x="549.70" y="10.4" font-size="11.3" font-weight="bold" fill="#111" stroke="#111" stroke-width="0.2" text-anchor="middle">Alpha:0.7</text>
<text x="467.50" y="229.2" font-size="8.3" font-weight="bold" fill="#1a1a1a" text-anchor="middle" textLength="8.78" lengthAdjust="spacingAndGlyphs">20</text>
<text x="508.50" y="229.2" font-size="8.3" font-weight="bold" fill="#1a1a1a" text-anchor="middle" textLength="8.78" lengthAdjust="spacingAndGlyphs">40</text>
<text x="549.50" y="229.2" font-size="8.3" font-weight="bold" fill="#1a1a1a" text-anchor="middle" textLength="8.78" lengthAdjust="spacingAndGlyphs">60</text>
<text x="590.50" y="229.2" font-size="8.3" font-weight="bold" fill="#1a1a1a" text-anchor="middle" textLength="8.78" lengthAdjust="spacingAndGlyphs">80</text>
<text x="631.50" y="229.2" font-size="8.3" font-weight="bold" fill="#1a1a1a" text-anchor="middle" textLength="13.18" lengthAdjust="spacingAndGlyphs">100</text>
<text transform="translate(20.5,36.97) rotate(-90)" x="0" y="0" font-size="8.3" font-weight="bold" fill="#1a1a1a" text-anchor="middle" textLength="8.78" lengthAdjust="spacingAndGlyphs">20</text>
<text transform="translate(20.5,77.71) rotate(-90)" x="0" y="0" font-size="8.3" font-weight="bold" fill="#1a1a1a" text-anchor="middle" textLength="8.78" lengthAdjust="spacingAndGlyphs">40</text>
<text transform="translate(20.5,118.45) rotate(-90)" x="0" y="0" font-size="8.3" font-weight="bold" fill="#1a1a1a" text-anchor="middle" textLength="8.78" lengthAdjust="spacingAndGlyphs">60</text>
<text transform="translate(20.5,159.19) rotate(-90)" x="0" y="0" font-size="8.3" font-weight="bold" fill="#1a1a1a" text-anchor="middle" textLength="8.78" lengthAdjust="spacingAndGlyphs">80</text>
<text transform="translate(20.5,199.93) rotate(-90)" x="0" y="0" font-size="8.3" font-weight="bold" fill="#1a1a1a" text-anchor="middle" textLength="13.18" lengthAdjust="spacingAndGlyphs">100</text>
<rect x="317.80" y="18.00" width="39.50" height="38.00" rx="6" ry="6" fill="none" stroke="#f4eb46" stroke-width="1.85"/>
<path d="M321.12,28.70L321.12,27.94Q321.42,27.23 321.87,26.70Q322.31,26.16 322.79,25.72Q323.28,25.29 323.76,24.92Q324.24,24.54 324.62,24.17Q325.00,23.80 325.24,23.39Q325.48,22.98 325.48,22.47Q325.48,21.77 325.07,21.39Q324.66,21.00 323.94,21.00Q323.24,21.00 322.80,21.38Q322.35,21.75 322.27,22.43L321.17,22.33Q321.29,21.31 322.03,20.71Q322.77,20.11 323.94,20.11Q325.21,20.11 325.90,20.71Q326.59,21.32 326.59,22.43Q326.59,22.92 326.36,23.41Q326.14,23.90 325.69,24.38Q325.25,24.87 324.00,25.89Q323.30,26.45 322.89,26.91Q322.49,27.36 322.31,27.78L326.72,27.78L326.72,28.70L321.12,28.70Z" fill="#f4eb46" stroke="#f4eb46" stroke-width="0.4"/>
<rect x="236.50" y="140.30" width="39.10" height="37.90" rx="6" ry="6" fill="none" stroke="#f4eb46" stroke-width="1.85"/>
<path d="M241.69,150.90 L241.69,143.47 L239.78,144.83 L239.78,143.81 L241.78,142.44 L242.78,142.44 L242.78,150.90Z" fill="#f4eb46" stroke="#f4eb46" stroke-width="0.35" stroke-linejoin="round"/>
<rect x="399.80" y="140.30" width="39.00" height="37.50" rx="6" ry="6" fill="none" stroke="#f4eb46" stroke-width="1.85"/>
<path d="M405.89,150.90 L405.89,143.47 L403.98,144.83 L403.98,143.81 L405.98,142.44 L406.98,142.44 L406.98,150.90Z" fill="#f4eb46" stroke="#f4eb46" stroke-width="0.35" stroke-linejoin="round"/>
<rect x="448.80" y="18.00" width="39.00" height="37.70" rx="6" ry="6" fill="none" stroke="#f4eb46" stroke-width="1.85"/>
<path d="M457.20,26.36Q457.20,27.54 456.45,28.18Q455.71,28.82 454.33,28.82Q453.04,28.82 452.28,28.24Q451.51,27.66 451.37,26.53L452.49,26.42Q452.70,27.93 454.33,27.93Q455.15,27.93 455.61,27.52Q456.08,27.12 456.08,26.33Q456.08,25.64 455.55,25.25Q455.01,24.86 454.01,24.86L453.40,24.86L453.40,23.93L453.99,23.93Q454.88,23.93 455.36,23.54Q455.85,23.15 455.85,22.47Q455.85,21.79 455.45,21.39Q455.06,21.00 454.27,21.00Q453.55,21.00 453.11,21.37Q452.67,21.73 452.60,22.40L451.51,22.32Q451.63,21.28 452.37,20.69Q453.12,20.11 454.28,20.11Q455.55,20.11 456.26,20.70Q456.97,21.30 456.97,22.35Q456.97,23.16 456.51,23.67Q456.06,24.18 455.19,24.36L455.19,24.38Q456.14,24.48 456.67,25.02Q457.20,25.55 457.20,26.36Z" fill="#f4eb46" stroke="#f4eb46" stroke-width="0.4"/>
<rect x="530.40" y="18.00" width="38.60" height="37.80" rx="6" ry="6" fill="none" stroke="#f4eb46" stroke-width="1.85"/>
<path d="M533.72,28.70L533.72,27.94Q534.02,27.23 534.47,26.70Q534.91,26.16 535.39,25.72Q535.88,25.29 536.36,24.92Q536.84,24.54 537.22,24.17Q537.60,23.80 537.84,23.39Q538.08,22.98 538.08,22.47Q538.08,21.77 537.67,21.39Q537.26,21.00 536.54,21.00Q535.84,21.00 535.40,21.38Q534.95,21.75 534.87,22.43L533.77,22.33Q533.89,21.31 534.63,20.71Q535.37,20.11 536.54,20.11Q537.81,20.11 538.50,20.71Q539.19,21.32 539.19,22.43Q539.19,22.92 538.96,23.41Q538.74,23.90 538.29,24.38Q537.85,24.87 536.60,25.89Q535.90,26.45 535.49,26.91Q535.09,27.36 534.91,27.78L539.32,27.78L539.32,28.70L533.72,28.70Z" fill="#f4eb46" stroke="#f4eb46" stroke-width="0.4"/>
<rect x="611.90" y="18.00" width="39.10" height="37.70" rx="6" ry="6" fill="none" stroke="#f4eb46" stroke-width="1.85"/>
<path d="M618.29,28.70 L618.29,21.27 L616.38,22.63 L616.38,21.61 L618.38,20.24 L619.38,20.24 L619.38,28.70Z" fill="#f4eb46" stroke="#f4eb46" stroke-width="0.35" stroke-linejoin="round"/>
<rect x="656.1" y="16.8" width="10.2" height="201.85" fill="url(#cb)"/>
<line x1="666.3" x2="668.3" y1="16.80" y2="16.80" stroke="#333" stroke-width="0.6"/>
<text x="668.9" y="20.20" font-size="9" fill="#1e1e1e" stroke="#1e1e1e" stroke-width="0.25" textLength="15.5" lengthAdjust="spacingAndGlyphs">0.86</text>
<line x1="666.3" x2="668.3" y1="53.50" y2="53.50" stroke="#333" stroke-width="0.6"/>
<text x="668.9" y="56.90" font-size="9" fill="#1e1e1e" stroke="#1e1e1e" stroke-width="0.25" textLength="15.5" lengthAdjust="spacingAndGlyphs">0.84</text>
<line x1="666.3" x2="668.3" y1="90.20" y2="90.20" stroke="#333" stroke-width="0.6"/>
<text x="668.9" y="93.60" font-size="9" fill="#1e1e1e" stroke="#1e1e1e" stroke-width="0.25" textLength="15.5" lengthAdjust="spacingAndGlyphs">0.82</text>
<line x1="666.3" x2="668.3" y1="126.90" y2="126.90" stroke="#333" stroke-width="0.6"/>
<text x="668.9" y="130.30" font-size="9" fill="#1e1e1e" stroke="#1e1e1e" stroke-width="0.25" textLength="15.5" lengthAdjust="spacingAndGlyphs">0.80</text>
<line x1="666.3" x2="668.3" y1="163.60" y2="163.60" stroke="#333" stroke-width="0.6"/>
<text x="668.9" y="167.00" font-size="9" fill="#1e1e1e" stroke="#1e1e1e" stroke-width="0.25" textLength="15.5" lengthAdjust="spacingAndGlyphs">0.78</text>
<line x1="666.3" x2="668.3" y1="200.30" y2="200.30" stroke="#333" stroke-width="0.6"/>
<text x="668.9" y="203.70" font-size="9" fill="#1e1e1e" stroke="#1e1e1e" stroke-width="0.25" textLength="15.5" lengthAdjust="spacingAndGlyphs">0.76</text>
<text transform="translate(9.8,117.9) rotate(-90)" x="0" y="0" font-size="11.6" fill="#111" text-anchor="middle" textLength="109" lengthAdjust="spacingAndGlyphs">H<tspan font-size="7" dy="1.6">s</tspan><tspan dy="-1.6">: Threshold "same"</tspan></text>
<text x="337.5" y="241.3" font-size="11.7" fill="#111" text-anchor="middle" textLength="99.2" lengthAdjust="spacingAndGlyphs">H<tspan font-size="7" dy="1.6">d</tspan><tspan dy="-1.6">: Threshold "diff"</tspan></text>
<text x="110.8" y="250.1" font-size="11.6" fill="#111" textLength="32.8" lengthAdjust="spacingAndGlyphs">Triplet</text>
<text x="529.6" y="250.1" font-size="11.6" fill="#111" textLength="41.0" lengthAdjust="spacingAndGlyphs">CytoSet</text>
<line x1="152" x2="521" y1="246.7" y2="246.7" stroke="#1a1a1a" stroke-width="2.0"/>
<path d="M149.0,246.7 L153.4,244.7 L153.4,248.7 Z" fill="#1a1a1a"/>
<path d="M524.4,246.7 L520.0,244.7 L520.0,248.7 Z" fill="#1a1a1a"/>
</svg></body></html>
